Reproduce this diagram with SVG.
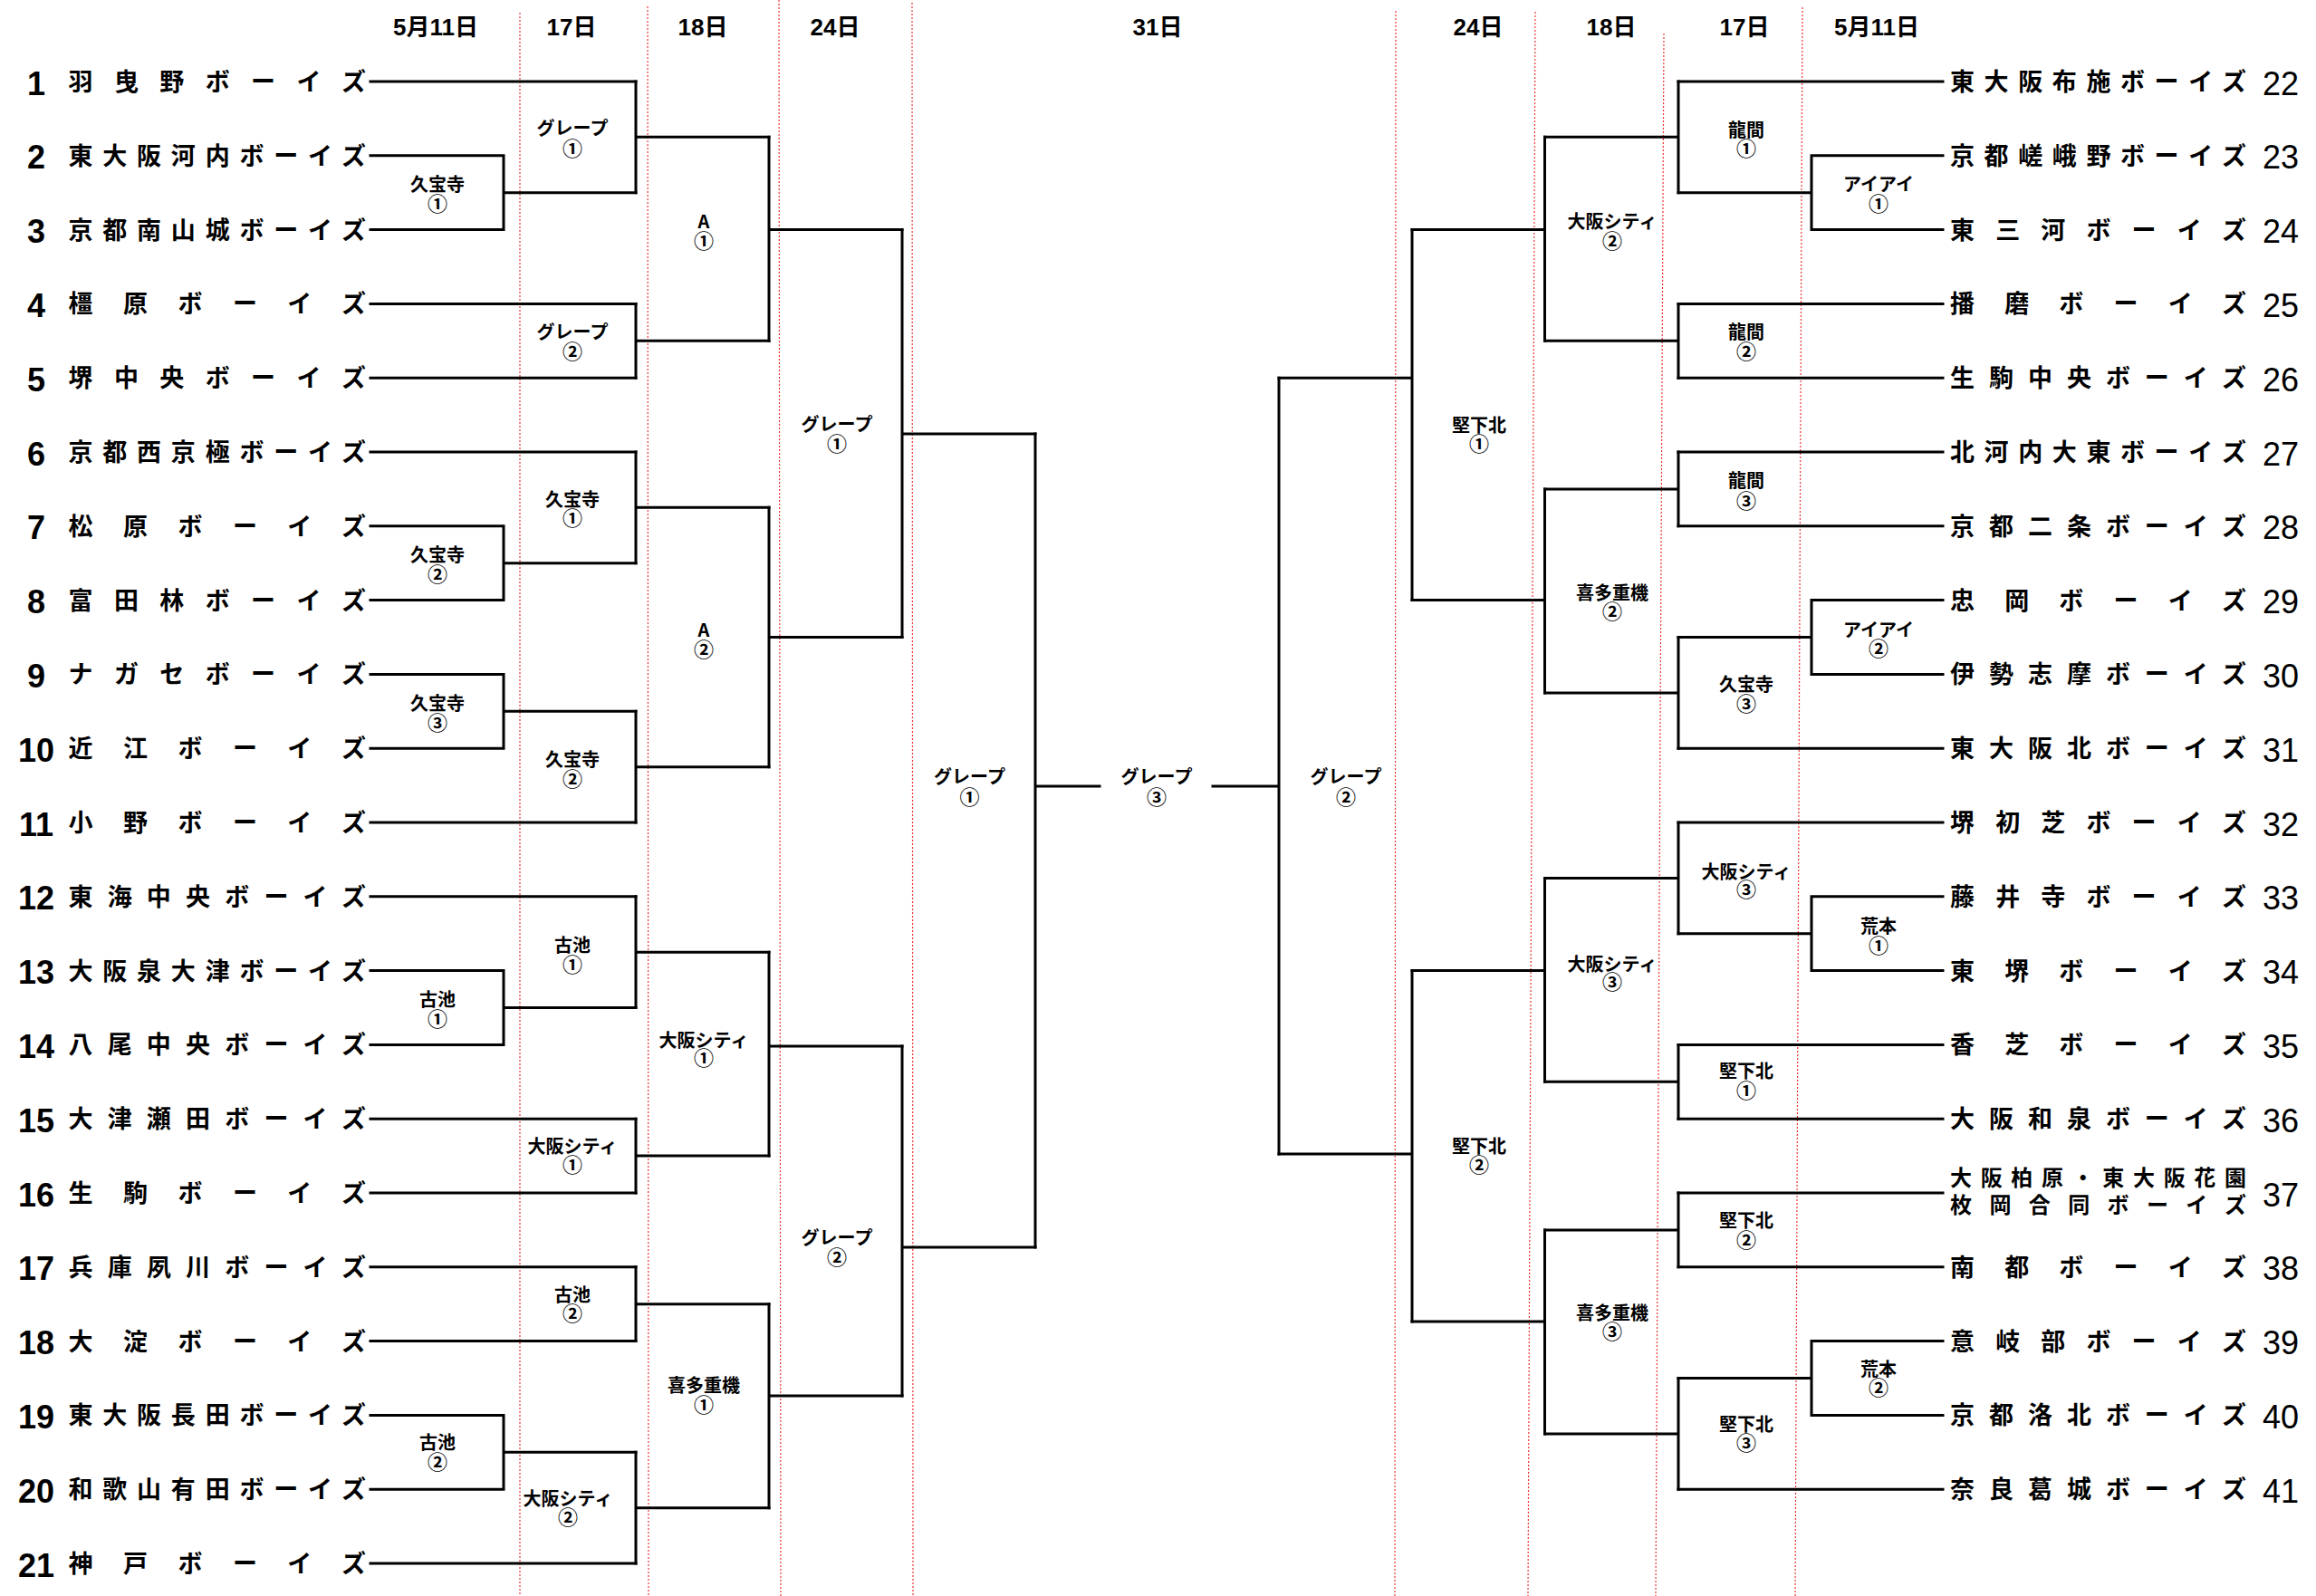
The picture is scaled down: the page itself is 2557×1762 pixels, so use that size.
<svg xmlns="http://www.w3.org/2000/svg" width="2557" height="1762" viewBox="0 0 2557 1762">
<style>
.hd{font-family:"Liberation Sans","Noto Sans CJK JP",sans-serif;font-weight:bold;font-size:26px;text-anchor:middle}
.nm{font-family:"Noto Sans CJK JP",sans-serif;font-weight:bold;font-size:27px}
.nm2{font-family:"Noto Sans CJK JP",sans-serif;font-weight:bold;font-size:24px}
.nl{font-family:"Liberation Sans",sans-serif;font-weight:bold;font-size:36px;text-anchor:middle}
.nr{font-family:"Liberation Sans",sans-serif;font-size:36px;text-anchor:middle}
.lb{font-family:"Noto Sans CJK JP",sans-serif;font-weight:bold;font-size:20px;text-anchor:middle}
.ci{font-family:"Noto Sans CJK JP",sans-serif;font-weight:bold;font-size:22px}
.ln{stroke:#000;stroke-width:3;fill:none;stroke-linecap:square}
.rd{stroke:#ee3333;stroke-width:1.2;stroke-dasharray:2 2;fill:none}
</style>
<rect width="2557" height="1762" fill="#fff"/>
<g id="guides">
<line class="rd" x1="574" y1="14" x2="574" y2="1762"/>
<line class="rd" x1="715" y1="7" x2="716" y2="1762"/>
<line class="rd" x1="860" y1="0" x2="862" y2="1762"/>
<line class="rd" x1="1007" y1="3" x2="1008" y2="1762"/>
<line class="rd" x1="1541" y1="12" x2="1540" y2="1762"/>
<line class="rd" x1="1695" y1="13" x2="1687" y2="1762"/>
<line class="rd" x1="1837" y1="37" x2="1828" y2="1762"/>
<line class="rd" x1="1990" y1="8" x2="1982" y2="1762"/>
</g>
<g id="headers">
<text class="hd" x="481" y="39">5月11日</text>
<text class="hd" x="631" y="39">17日</text>
<text class="hd" x="776" y="39">18日</text>
<text class="hd" x="922" y="39">24日</text>
<text class="hd" x="1278" y="39">31日</text>
<text class="hd" x="1632" y="39">24日</text>
<text class="hd" x="1779" y="39">18日</text>
<text class="hd" x="1926" y="39">17日</text>
<text class="hd" x="2072" y="39">5月11日</text>
</g>
<g id="connectors" class="ln">
<path d="M409 90H702M409 335.4H702M409 417.2H702M409 499H702M409 908H702M409 989.8H702M409 1235.2H702M409 1317H702M409 1398.8H702M409 1480.6H702M409 1726H702"/>
<path d="M409 171.8H556V253.6H409M556 212.7H702"/>
<path d="M409 580.8H556V662.6H409M556 621.7H702"/>
<path d="M409 744.4H556V826.2H409M556 785.3H702"/>
<path d="M409 1071.6H556V1153.4H409M556 1112.5H702"/>
<path d="M409 1562.4H556V1644.2H409M556 1603.3H702"/>
<path d="M702 90V212.7M702 151.3H849"/>
<path d="M702 335.4V417.2M702 376.3H849"/>
<path d="M702 499V621.7M702 560.3H849"/>
<path d="M702 785.3V908M702 846.7H849"/>
<path d="M702 989.8V1112.5M702 1051.2H849"/>
<path d="M702 1235.2V1317M702 1276H849"/>
<path d="M702 1398.8V1480.6M702 1439.7H849"/>
<path d="M702 1603.3V1726M702 1664.7H849"/>
<path d="M849 151.3V376.3M849 253.6H996"/>
<path d="M849 560.3V846.7M849 703.5H996"/>
<path d="M849 1051.2V1276M849 1155H996"/>
<path d="M849 1439.7V1664.7M849 1541H996"/>
<path d="M996 253.6V703.5M996 479H1143"/>
<path d="M996 1155V1541M996 1377H1143"/>
<path d="M1143 479V1377M1143 868H1214"/>
<path d="M2145 90H1853M2145 335.4H1853M2145 417.2H1853M2145 499H1853M2145 580.8H1853M2145 826.2H1853M2145 908H1853M2145 1153.4H1853M2145 1235.2H1853M2145 1317H1853M2145 1398.8H1853M2145 1644.2H1853"/>
<path d="M2145 171.8H2000V253.6H2145M2000 212.7H1853"/>
<path d="M2145 662.6H2000V744.4H2145M2000 703.5H1853"/>
<path d="M2145 989.8H2000V1071.6H2145M2000 1030.7H1853"/>
<path d="M2145 1480.6H2000V1562.4H2145M2000 1521.5H1853"/>
<path d="M1853 90V212.7M1853 151.3H1705.5"/>
<path d="M1853 335.4V417.2M1853 376.3H1705.5"/>
<path d="M1853 499V580.8M1853 539.9H1705.5"/>
<path d="M1853 703.5V826.2M1853 764.9H1705.5"/>
<path d="M1853 908V1030.7M1853 969.4H1705.5"/>
<path d="M1853 1153.4V1235.2M1853 1194.3H1705.5"/>
<path d="M1853 1317V1398.8M1853 1357.9H1705.5"/>
<path d="M1853 1521.5V1644.2M1853 1582.9H1705.5"/>
<path d="M1705.5 151.3V376.3M1705.5 253.6H1559"/>
<path d="M1705.5 539.9V764.9M1705.5 662.6H1559"/>
<path d="M1705.5 969.4V1194.3M1705.5 1071.6H1559"/>
<path d="M1705.5 1357.9V1582.9M1705.5 1459H1559"/>
<path d="M1559 253.6V662.6M1559 417.2H1412"/>
<path d="M1559 1071.6V1459M1559 1274H1412"/>
<path d="M1412 417.2V1274M1412 868H1339"/>
</g>
<g id="teams-left">
<g id="team-1"><text class="nl" x="40" y="104.5">1</text><text class="nm" x="75.5" y="100" textLength="328.5" lengthAdjust="spacing">羽曳野ボーイズ</text></g>
<g id="team-2"><text class="nl" x="40" y="186.3">2</text><text class="nm" x="75.5" y="181.8" textLength="328.5" lengthAdjust="spacing">東大阪河内ボーイズ</text></g>
<g id="team-3"><text class="nl" x="40" y="268.1">3</text><text class="nm" x="75.5" y="263.6" textLength="328.5" lengthAdjust="spacing">京都南山城ボーイズ</text></g>
<g id="team-4"><text class="nl" x="40" y="349.9">4</text><text class="nm" x="75.5" y="345.4" textLength="328.5" lengthAdjust="spacing">橿原ボーイズ</text></g>
<g id="team-5"><text class="nl" x="40" y="431.7">5</text><text class="nm" x="75.5" y="427.2" textLength="328.5" lengthAdjust="spacing">堺中央ボーイズ</text></g>
<g id="team-6"><text class="nl" x="40" y="513.5">6</text><text class="nm" x="75.5" y="509" textLength="328.5" lengthAdjust="spacing">京都西京極ボーイズ</text></g>
<g id="team-7"><text class="nl" x="40" y="595.3">7</text><text class="nm" x="75.5" y="590.8" textLength="328.5" lengthAdjust="spacing">松原ボーイズ</text></g>
<g id="team-8"><text class="nl" x="40" y="677.1">8</text><text class="nm" x="75.5" y="672.6" textLength="328.5" lengthAdjust="spacing">富田林ボーイズ</text></g>
<g id="team-9"><text class="nl" x="40" y="758.9">9</text><text class="nm" x="75.5" y="754.4" textLength="328.5" lengthAdjust="spacing">ナガセボーイズ</text></g>
<g id="team-10"><text class="nl" x="40" y="840.7">10</text><text class="nm" x="75.5" y="836.2" textLength="328.5" lengthAdjust="spacing">近江ボーイズ</text></g>
<g id="team-11"><text class="nl" x="40" y="922.5">11</text><text class="nm" x="75.5" y="918" textLength="328.5" lengthAdjust="spacing">小野ボーイズ</text></g>
<g id="team-12"><text class="nl" x="40" y="1004.3">12</text><text class="nm" x="75.5" y="999.8" textLength="328.5" lengthAdjust="spacing">東海中央ボーイズ</text></g>
<g id="team-13"><text class="nl" x="40" y="1086.1">13</text><text class="nm" x="75.5" y="1081.6" textLength="328.5" lengthAdjust="spacing">大阪泉大津ボーイズ</text></g>
<g id="team-14"><text class="nl" x="40" y="1167.9">14</text><text class="nm" x="75.5" y="1163.4" textLength="328.5" lengthAdjust="spacing">八尾中央ボーイズ</text></g>
<g id="team-15"><text class="nl" x="40" y="1249.7">15</text><text class="nm" x="75.5" y="1245.2" textLength="328.5" lengthAdjust="spacing">大津瀬田ボーイズ</text></g>
<g id="team-16"><text class="nl" x="40" y="1331.5">16</text><text class="nm" x="75.5" y="1327" textLength="328.5" lengthAdjust="spacing">生駒ボーイズ</text></g>
<g id="team-17"><text class="nl" x="40" y="1413.3">17</text><text class="nm" x="75.5" y="1408.8" textLength="328.5" lengthAdjust="spacing">兵庫夙川ボーイズ</text></g>
<g id="team-18"><text class="nl" x="40" y="1495.1">18</text><text class="nm" x="75.5" y="1490.6" textLength="328.5" lengthAdjust="spacing">大淀ボーイズ</text></g>
<g id="team-19"><text class="nl" x="40" y="1576.9">19</text><text class="nm" x="75.5" y="1572.4" textLength="328.5" lengthAdjust="spacing">東大阪長田ボーイズ</text></g>
<g id="team-20"><text class="nl" x="40" y="1658.7">20</text><text class="nm" x="75.5" y="1654.2" textLength="328.5" lengthAdjust="spacing">和歌山有田ボーイズ</text></g>
<g id="team-21"><text class="nl" x="40" y="1740.5">21</text><text class="nm" x="75.5" y="1736" textLength="328.5" lengthAdjust="spacing">神戸ボーイズ</text></g>
</g>
<g id="teams-right">
<g id="team-22"><text class="nm" x="2153" y="100" textLength="327" lengthAdjust="spacing">東大阪布施ボーイズ</text><text class="nr" x="2518" y="104.5">22</text></g>
<g id="team-23"><text class="nm" x="2153" y="181.8" textLength="327" lengthAdjust="spacing">京都嵯峨野ボーイズ</text><text class="nr" x="2518" y="186.3">23</text></g>
<g id="team-24"><text class="nm" x="2153" y="263.6" textLength="327" lengthAdjust="spacing">東三河ボーイズ</text><text class="nr" x="2518" y="268.1">24</text></g>
<g id="team-25"><text class="nm" x="2153" y="345.4" textLength="327" lengthAdjust="spacing">播磨ボーイズ</text><text class="nr" x="2518" y="349.9">25</text></g>
<g id="team-26"><text class="nm" x="2153" y="427.2" textLength="327" lengthAdjust="spacing">生駒中央ボーイズ</text><text class="nr" x="2518" y="431.7">26</text></g>
<g id="team-27"><text class="nm" x="2153" y="509" textLength="327" lengthAdjust="spacing">北河内大東ボーイズ</text><text class="nr" x="2518" y="513.5">27</text></g>
<g id="team-28"><text class="nm" x="2153" y="590.8" textLength="327" lengthAdjust="spacing">京都二条ボーイズ</text><text class="nr" x="2518" y="595.3">28</text></g>
<g id="team-29"><text class="nm" x="2153" y="672.6" textLength="327" lengthAdjust="spacing">忠岡ボーイズ</text><text class="nr" x="2518" y="677.1">29</text></g>
<g id="team-30"><text class="nm" x="2153" y="754.4" textLength="327" lengthAdjust="spacing">伊勢志摩ボーイズ</text><text class="nr" x="2518" y="758.9">30</text></g>
<g id="team-31"><text class="nm" x="2153" y="836.2" textLength="327" lengthAdjust="spacing">東大阪北ボーイズ</text><text class="nr" x="2518" y="840.7">31</text></g>
<g id="team-32"><text class="nm" x="2153" y="918" textLength="327" lengthAdjust="spacing">堺初芝ボーイズ</text><text class="nr" x="2518" y="922.5">32</text></g>
<g id="team-33"><text class="nm" x="2153" y="999.8" textLength="327" lengthAdjust="spacing">藤井寺ボーイズ</text><text class="nr" x="2518" y="1004.3">33</text></g>
<g id="team-34"><text class="nm" x="2153" y="1081.6" textLength="327" lengthAdjust="spacing">東堺ボーイズ</text><text class="nr" x="2518" y="1086.1">34</text></g>
<g id="team-35"><text class="nm" x="2153" y="1163.4" textLength="327" lengthAdjust="spacing">香芝ボーイズ</text><text class="nr" x="2518" y="1167.9">35</text></g>
<g id="team-36"><text class="nm" x="2153" y="1245.2" textLength="327" lengthAdjust="spacing">大阪和泉ボーイズ</text><text class="nr" x="2518" y="1249.7">36</text></g>
<g id="team-37"><text class="nm2"><tspan x="2153" y="1309" textLength="327" lengthAdjust="spacing">大阪柏原・東大阪花園</tspan><tspan x="2153" y="1338.5" textLength="327" lengthAdjust="spacing">枚岡合同ボーイズ</tspan></text><text class="nr" x="2518" y="1331.5">37</text></g>
<g id="team-38"><text class="nm" x="2153" y="1408.8" textLength="327" lengthAdjust="spacing">南都ボーイズ</text><text class="nr" x="2518" y="1413.3">38</text></g>
<g id="team-39"><text class="nm" x="2153" y="1490.6" textLength="327" lengthAdjust="spacing">意岐部ボーイズ</text><text class="nr" x="2518" y="1495.1">39</text></g>
<g id="team-40"><text class="nm" x="2153" y="1572.4" textLength="327" lengthAdjust="spacing">京都洛北ボーイズ</text><text class="nr" x="2518" y="1576.9">40</text></g>
<g id="team-41"><text class="nm" x="2153" y="1654.2" textLength="327" lengthAdjust="spacing">奈良葛城ボーイズ</text><text class="nr" x="2518" y="1658.7">41</text></g>
</g>
<g id="matches-left">
<g id="m-l1-1"><text class="lb"><tspan x="483" y="211">久宝寺</tspan><tspan class="ci" x="483" y="233">①</tspan></text></g>
<g id="m-l1-2"><text class="lb"><tspan x="483" y="620">久宝寺</tspan><tspan class="ci" x="483" y="642">②</tspan></text></g>
<g id="m-l1-3"><text class="lb"><tspan x="483" y="784">久宝寺</tspan><tspan class="ci" x="483" y="805.5">③</tspan></text></g>
<g id="m-l1-4"><text class="lb"><tspan x="483" y="1111">古池</tspan><tspan class="ci" x="483" y="1132.5">①</tspan></text></g>
<g id="m-l1-5"><text class="lb"><tspan x="483" y="1600">古池</tspan><tspan class="ci" x="483" y="1621.5">②</tspan></text></g>
<g id="m-l2-1"><text class="lb"><tspan x="632" y="148.5">グレープ</tspan><tspan class="ci" x="632" y="172">①</tspan></text></g>
<g id="m-l2-2"><text class="lb"><tspan x="632" y="374">グレープ</tspan><tspan class="ci" x="632" y="395.5">②</tspan></text></g>
<g id="m-l2-3"><text class="lb"><tspan x="632" y="558.5">久宝寺</tspan><tspan class="ci" x="632" y="580">①</tspan></text></g>
<g id="m-l2-4"><text class="lb"><tspan x="632" y="845.5">久宝寺</tspan><tspan class="ci" x="632" y="867.5">②</tspan></text></g>
<g id="m-l2-5"><text class="lb"><tspan x="632" y="1050.5">古池</tspan><tspan class="ci" x="632" y="1072.5">①</tspan></text></g>
<g id="m-l2-6"><text class="lb"><tspan x="632" y="1272.5">大阪シティ</tspan><tspan class="ci" x="632" y="1294">①</tspan></text></g>
<g id="m-l2-7"><text class="lb"><tspan x="632" y="1437">古池</tspan><tspan class="ci" x="632" y="1457.5">②</tspan></text></g>
<g id="m-l2-8"><text class="lb"><tspan x="627" y="1661.5">大阪シティ</tspan><tspan class="ci" x="627" y="1682.5">②</tspan></text></g>
<g id="m-l3-1"><text class="lb"><tspan x="777" y="251.5">A</tspan><tspan class="ci" x="777" y="273.5">①</tspan></text></g>
<g id="m-l3-2"><text class="lb"><tspan x="777" y="702.5">A</tspan><tspan class="ci" x="777" y="724.5">②</tspan></text></g>
<g id="m-l3-3"><text class="lb"><tspan x="777" y="1155.5">大阪シティ</tspan><tspan class="ci" x="777" y="1175.5">①</tspan></text></g>
<g id="m-l3-4"><text class="lb"><tspan x="777" y="1536.5">喜多重機</tspan><tspan class="ci" x="777" y="1559">①</tspan></text></g>
<g id="m-l4-1"><text class="lb"><tspan x="924" y="475.5">グレープ</tspan><tspan class="ci" x="924" y="497.5">①</tspan></text></g>
<g id="m-l4-2"><text class="lb"><tspan x="924" y="1373.5">グレープ</tspan><tspan class="ci" x="924" y="1396">②</tspan></text></g>
<g id="m-l5-1"><text class="lb"><tspan x="1070.5" y="864.5">グレープ</tspan><tspan class="ci" x="1070.5" y="888">①</tspan></text></g>
</g>
<g id="match-final"><text class="lb"><tspan x="1277" y="864.5">グレープ</tspan><tspan class="ci" x="1277" y="888">③</tspan></text></g>
<g id="matches-right">
<g id="m-r5-1"><text class="lb"><tspan x="1486" y="864.5">グレープ</tspan><tspan class="ci" x="1486" y="888">②</tspan></text></g>
<g id="m-r4-1"><text class="lb"><tspan x="1633" y="476.5">堅下北</tspan><tspan class="ci" x="1633" y="497.5">①</tspan></text></g>
<g id="m-r4-2"><text class="lb"><tspan x="1633" y="1272.5">堅下北</tspan><tspan class="ci" x="1633" y="1293.5">②</tspan></text></g>
<g id="m-r3-1"><text class="lb"><tspan x="1780" y="252">大阪シティ</tspan><tspan class="ci" x="1780" y="273.5">②</tspan></text></g>
<g id="m-r3-2"><text class="lb"><tspan x="1780" y="661.5">喜多重機</tspan><tspan class="ci" x="1780" y="683">②</tspan></text></g>
<g id="m-r3-3"><text class="lb"><tspan x="1780" y="1071.5">大阪シティ</tspan><tspan class="ci" x="1780" y="1092">③</tspan></text></g>
<g id="m-r3-4"><text class="lb"><tspan x="1780" y="1456.5">喜多重機</tspan><tspan class="ci" x="1780" y="1478">③</tspan></text></g>
<g id="m-r2-1"><text class="lb"><tspan x="1928" y="150.5">龍間</tspan><tspan class="ci" x="1928" y="172">①</tspan></text></g>
<g id="m-r2-2"><text class="lb"><tspan x="1928" y="374">龍間</tspan><tspan class="ci" x="1928" y="395.5">②</tspan></text></g>
<g id="m-r2-3"><text class="lb"><tspan x="1928" y="538">龍間</tspan><tspan class="ci" x="1928" y="561">③</tspan></text></g>
<g id="m-r2-4"><text class="lb"><tspan x="1928" y="763">久宝寺</tspan><tspan class="ci" x="1928" y="784.5">③</tspan></text></g>
<g id="m-r2-5"><text class="lb"><tspan x="1928" y="969.5">大阪シティ</tspan><tspan class="ci" x="1928" y="989.5">③</tspan></text></g>
<g id="m-r2-6"><text class="lb"><tspan x="1928" y="1189.5">堅下北</tspan><tspan class="ci" x="1928" y="1211.5">①</tspan></text></g>
<g id="m-r2-7"><text class="lb"><tspan x="1928" y="1354.5">堅下北</tspan><tspan class="ci" x="1928" y="1376.5">②</tspan></text></g>
<g id="m-r2-8"><text class="lb"><tspan x="1928" y="1579.5">堅下北</tspan><tspan class="ci" x="1928" y="1600.5">③</tspan></text></g>
<g id="m-r1-1"><text class="lb"><tspan x="2074" y="210.5">アイアイ</tspan><tspan class="ci" x="2074" y="233">①</tspan></text></g>
<g id="m-r1-2"><text class="lb"><tspan x="2074" y="702.5">アイアイ</tspan><tspan class="ci" x="2074" y="723.5">②</tspan></text></g>
<g id="m-r1-3"><text class="lb"><tspan x="2074" y="1029.5">荒本</tspan><tspan class="ci" x="2074" y="1051.5">①</tspan></text></g>
<g id="m-r1-4"><text class="lb"><tspan x="2074" y="1518.5">荒本</tspan><tspan class="ci" x="2074" y="1539.5">②</tspan></text></g>
</g>
</svg>
